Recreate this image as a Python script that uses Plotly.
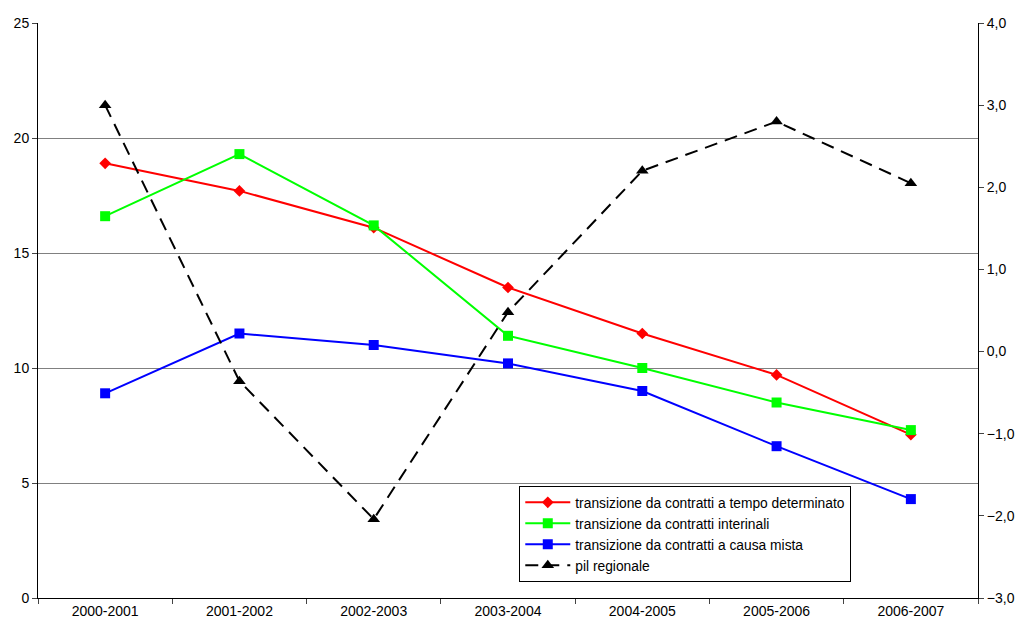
import plotly.graph_objects as go

categories = ["2000-2001", "2001-2002", "2002-2003", "2003-2004", "2004-2005", "2005-2006", "2006-2007"]
tempo_determinato = [18.9, 17.7, 16.1, 13.5, 11.5, 9.7, 7.1]
interinali = [16.6, 19.3, 16.2, 11.4, 10.0, 8.5, 7.3]
causa_mista = [8.9, 11.5, 11.0, 10.2, 9.0, 6.6, 4.3]
pil_regionale = [3.0, -0.36, -2.04, 0.48, 2.2, 2.8, 2.05]

font_family = "Liberation Sans, Arial, sans-serif"

fig = go.Figure()
fig.add_trace(go.Scatter(x=categories, y=tempo_determinato, mode="lines+markers",
                         name="transizione da contratti a tempo determinato",
                         line=dict(color="#FF0000", width=2),
                         marker=dict(symbol="diamond", size=9, color="#FF0000")))
fig.add_trace(go.Scatter(x=categories, y=interinali, mode="lines+markers",
                         name="transizione da contratti interinali",
                         line=dict(color="#00FF00", width=2),
                         marker=dict(symbol="square", size=10, color="#00FF00")))
fig.add_trace(go.Scatter(x=categories, y=causa_mista, mode="lines+markers",
                         name="transizione da contratti a causa mista",
                         line=dict(color="#0000FF", width=2),
                         marker=dict(symbol="square", size=10, color="#0000FF")))
fig.add_trace(go.Scatter(x=categories, y=pil_regionale, mode="lines+markers",
                         name="pil regionale", yaxis="y2",
                         line=dict(color="#000000", width=2, dash="13px,8px"),
                         marker=dict(symbol="triangle-up", size=11, color="#000000")))

fig.update_layout(
    width=1016, height=624,
    margin=dict(l=38, r=38, t=23, b=26, autoexpand=False),
    paper_bgcolor="white", plot_bgcolor="white",
    separators=",.",
    font=dict(family=font_family, size=14, color="black"),
    showlegend=True,
    legend=dict(x=0.512, y=0.028, xanchor="left", yanchor="bottom",
                bordercolor="black", borderwidth=1, bgcolor="white",
                font=dict(size=13.8), tracegroupgap=0, itemwidth=45),
    xaxis=dict(type="category", range=[-0.5, len(categories) - 0.5],
               tickson="boundaries", ticks="outside", ticklen=5,
               showline=True, linecolor="black", linewidth=1, showgrid=False,
               tickfont=dict(size=14), automargin=False),
    yaxis=dict(range=[0, 25], dtick=5, tick0=0, ticks="outside", ticklen=5,
               showline=True, linecolor="black", linewidth=1,
               showgrid=True, gridcolor="#808080", gridwidth=1,
               zeroline=False, tickfont=dict(size=14), automargin=False),
    yaxis2=dict(range=[-3, 4], dtick=1, tick0=0, tickformat=".1f", overlaying="y", side="right",
                ticks="outside", ticklen=5, showline=True, linecolor="black", linewidth=1,
                showgrid=False, zeroline=False, tickfont=dict(size=14), automargin=False),
)

# remove the default page margin so the figure sits at the window's top-left corner
fig.write_html("out.html", config={"displayModeBar": False},
               post_script="document.body.style.margin='0';document.body.style.overflow='hidden';")
